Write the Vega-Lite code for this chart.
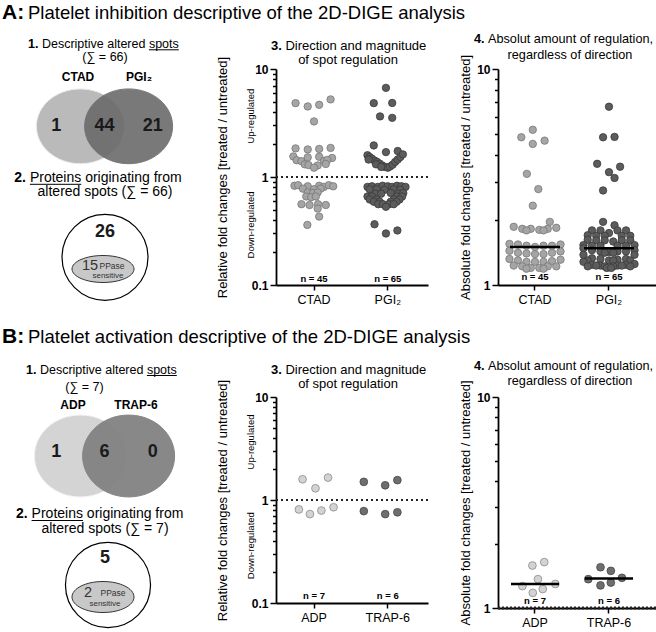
{
"$schema": "https://vega.github.io/schema/vega-lite/v6.json",
"background": "white",
"padding": {"left": 2, "top": 2, "right": 0, "bottom": 0},
"config": {
 "font": "Liberation Sans",
 "view": {"stroke": null},
 "axis": {"domainColor": "#000", "domainWidth": 1.8, "tickColor": "#000", "tickWidth": 1.5, "labelColor": "#000", "titleColor": "#000", "labelFont": "Liberation Sans", "titleFont": "Liberation Sans", "grid": false},
 "axisX": {"labelFontSize": 12.5, "labelAngle": 0, "tickSize": 5, "labelPadding": 3, "labelFontWeight": "normal"},
 "axisY": {"labelFontSize": 12, "labelFontWeight": "bold", "labelPadding": 2, "titleFontSize": 13, "titleFontWeight": "normal"},
 "text": {"font": "Liberation Sans", "color": "#000"}
},
"datasets": {
 "a3": [
  {"g":"CTAD","fc":4.83,"j":-5},{"g":"CTAD","fc":4.5,"j":-1.7},{"g":"CTAD","fc":4.66,"j":1.4},{"g":"CTAD","fc":5.23,"j":4.5},{"g":"CTAD","fc":3.27,"j":0},
  {"g":"CTAD","fc":1.84,"j":-5},{"g":"CTAD","fc":1.8,"j":-1.7},{"g":"CTAD","fc":1.82,"j":1.4},{"g":"CTAD","fc":1.86,"j":4.5},
  {"g":"CTAD","fc":1.55,"j":-5.6},{"g":"CTAD","fc":1.52,"j":-1.7},{"g":"CTAD","fc":1.54,"j":1.4},{"g":"CTAD","fc":1.5,"j":4.9},
  {"g":"CTAD","fc":1.43,"j":-4.7},{"g":"CTAD","fc":1.4,"j":-3.4},{"g":"CTAD","fc":1.41,"j":2.7},{"g":"CTAD","fc":1.44,"j":3.6},
  {"g":"CTAD","fc":1.31,"j":-2.5},{"g":"CTAD","fc":1.29,"j":-1.5},{"g":"CTAD","fc":1.28,"j":1},{"g":"CTAD","fc":1.32,"j":3.2},{"g":"CTAD","fc":1.22,"j":0},
  {"g":"CTAD","fc":0.83,"j":-5.3},{"g":"CTAD","fc":0.84,"j":-4.3},{"g":"CTAD","fc":0.82,"j":-1.7},{"g":"CTAD","fc":0.83,"j":1.4},{"g":"CTAD","fc":0.81,"j":2.7},{"g":"CTAD","fc":0.84,"j":4},{"g":"CTAD","fc":0.82,"j":5.2},
  {"g":"CTAD","fc":0.78,"j":-3},{"g":"CTAD","fc":0.77,"j":0},{"g":"CTAD","fc":0.78,"j":1.8},
  {"g":"CTAD","fc":0.72,"j":-1.7},{"g":"CTAD","fc":0.71,"j":-0.3},{"g":"CTAD","fc":0.72,"j":1},
  {"g":"CTAD","fc":0.66,"j":-2.1},{"g":"CTAD","fc":0.65,"j":-0.8},{"g":"CTAD","fc":0.66,"j":0.5},
  {"g":"CTAD","fc":0.56,"j":-3.4},{"g":"CTAD","fc":0.55,"j":-1.2},{"g":"CTAD","fc":0.56,"j":1.1},{"g":"CTAD","fc":0.55,"j":3.2},
  {"g":"CTAD","fc":0.51,"j":1},{"g":"CTAD","fc":0.43,"j":1.4},{"g":"CTAD","fc":0.36,"j":-1.8},
  {"g":"PGI\u2082","fc":6.69,"j":-0.5},{"g":"PGI\u2082","fc":4.83,"j":-3.8},{"g":"PGI\u2082","fc":4.85,"j":1.2},{"g":"PGI\u2082","fc":3.64,"j":-2.1},{"g":"PGI\u2082","fc":3.53,"j":1.2},
  {"g":"PGI\u2082","fc":1.96,"j":-3.8},{"g":"PGI\u2082","fc":1.7,"j":-0.5},{"g":"PGI\u2082","fc":1.74,"j":2.7},
  {"g":"PGI\u2082","fc":1.59,"j":-5.5},{"g":"PGI\u2082","fc":1.53,"j":-4.9},{"g":"PGI\u2082","fc":1.48,"j":-4.3},{"g":"PGI\u2082","fc":1.42,"j":-3.6},{"g":"PGI\u2082","fc":1.38,"j":-2.9},{"g":"PGI\u2082","fc":1.33,"j":-2.2},{"g":"PGI\u2082","fc":1.28,"j":-1.5},{"g":"PGI\u2082","fc":1.24,"j":-0.8},{"g":"PGI\u2082","fc":1.22,"j":0},{"g":"PGI\u2082","fc":1.25,"j":0.6},{"g":"PGI\u2082","fc":1.3,"j":1.3},{"g":"PGI\u2082","fc":1.38,"j":2},{"g":"PGI\u2082","fc":1.45,"j":2.7},{"g":"PGI\u2082","fc":1.53,"j":3.4},{"g":"PGI\u2082","fc":1.62,"j":4.1},{"g":"PGI\u2082","fc":1.45,"j":-5.2},{"g":"PGI\u2082","fc":1.31,"j":-3.2},{"g":"PGI\u2082","fc":1.24,"j":-1.8},
  {"g":"PGI\u2082","fc":0.81,"j":-5.5},{"g":"PGI\u2082","fc":0.82,"j":-4.3},{"g":"PGI\u2082","fc":0.81,"j":-2.7},{"g":"PGI\u2082","fc":0.83,"j":-1.4},{"g":"PGI\u2082","fc":0.82,"j":0},{"g":"PGI\u2082","fc":0.81,"j":1.2},{"g":"PGI\u2082","fc":0.83,"j":2.5},{"g":"PGI\u2082","fc":0.82,"j":3.7},{"g":"PGI\u2082","fc":0.81,"j":4.8},
  {"g":"PGI\u2082","fc":0.77,"j":-4.9},{"g":"PGI\u2082","fc":0.77,"j":-3},{"g":"PGI\u2082","fc":0.76,"j":-0.9},{"g":"PGI\u2082","fc":0.77,"j":1.6},{"g":"PGI\u2082","fc":0.76,"j":3.4},
  {"g":"PGI\u2082","fc":0.7,"j":-3.4},{"g":"PGI\u2082","fc":0.7,"j":-1.8},{"g":"PGI\u2082","fc":0.71,"j":0.8},{"g":"PGI\u2082","fc":0.7,"j":2.8},{"g":"PGI\u2082","fc":0.71,"j":4.2},
  {"g":"PGI\u2082","fc":0.66,"j":-5.5},{"g":"PGI\u2082","fc":0.66,"j":-4.3},{"g":"PGI\u2082","fc":0.66,"j":2.4},{"g":"PGI\u2082","fc":0.66,"j":3.9},
  {"g":"PGI\u2082","fc":0.62,"j":-4.9},{"g":"PGI\u2082","fc":0.62,"j":-3},{"g":"PGI\u2082","fc":0.62,"j":1.6},{"g":"PGI\u2082","fc":0.62,"j":3.2},
  {"g":"PGI\u2082","fc":0.59,"j":-3.8},{"g":"PGI\u2082","fc":0.59,"j":-2.2},{"g":"PGI\u2082","fc":0.59,"j":0.8},{"g":"PGI\u2082","fc":0.59,"j":2.4},
  {"g":"PGI\u2082","fc":0.56,"j":-2.6},{"g":"PGI\u2082","fc":0.56,"j":-1.3},{"g":"PGI\u2082","fc":0.56,"j":0.3},{"g":"PGI\u2082","fc":0.56,"j":1.6},
  {"g":"PGI\u2082","fc":0.53,"j":-0.5},
  {"g":"PGI\u2082","fc":0.365,"j":-3.6},{"g":"PGI\u2082","fc":0.3,"j":-0.5},{"g":"PGI\u2082","fc":0.32,"j":2.6}
 ],
 "a4": [
  {"g":"CTAD","v":5.23,"j":-0.6},{"g":"CTAD","v":4.83,"j":-3.7},{"g":"CTAD","v":4.5,"j":-0.6},{"g":"CTAD","v":4.66,"j":2.6},{"g":"CTAD","v":3.27,"j":-2.2},{"g":"CTAD","v":2.78,"j":0.9},{"g":"CTAD","v":2.33,"j":-0.6},{"g":"CTAD","v":1.96,"j":4},
  {"g":"CTAD","v":1.86,"j":-5.75},{"g":"CTAD","v":1.84,"j":5.75},{"g":"CTAD","v":1.82,"j":-3.45},{"g":"CTAD","v":1.82,"j":3.45},{"g":"CTAD","v":1.82,"j":-1.15},{"g":"CTAD","v":1.8,"j":1.15},{"g":"CTAD","v":1.79,"j":-2.3},{"g":"CTAD","v":1.79,"j":2.3},
  {"g":"CTAD","v":1.55,"j":-6.9},{"g":"CTAD","v":1.54,"j":6.9},{"g":"CTAD","v":1.54,"j":-4.6},{"g":"CTAD","v":1.52,"j":4.6},{"g":"CTAD","v":1.52,"j":-2.3},{"g":"CTAD","v":1.52,"j":2.3},{"g":"CTAD","v":1.5,"j":0},
  {"g":"CTAD","v":1.44,"j":-6.9},{"g":"CTAD","v":1.43,"j":6.9},{"g":"CTAD","v":1.41,"j":-4.6},{"g":"CTAD","v":1.41,"j":4.6},{"g":"CTAD","v":1.4,"j":-2.3},{"g":"CTAD","v":1.39,"j":2.3},{"g":"CTAD","v":1.39,"j":0},
  {"g":"CTAD","v":1.32,"j":-6.9},{"g":"CTAD","v":1.31,"j":6.9},{"g":"CTAD","v":1.3,"j":-4.6},{"g":"CTAD","v":1.29,"j":4.6},{"g":"CTAD","v":1.28,"j":-2.3},{"g":"CTAD","v":1.28,"j":2.3},{"g":"CTAD","v":1.28,"j":0},
  {"g":"CTAD","v":1.23,"j":-5.75},{"g":"CTAD","v":1.22,"j":5.75},{"g":"CTAD","v":1.22,"j":-3.45},{"g":"CTAD","v":1.22,"j":3.45},{"g":"CTAD","v":1.2,"j":-1.15},{"g":"CTAD","v":1.2,"j":1.15},{"g":"CTAD","v":1.19,"j":-2.3},{"g":"CTAD","v":1.19,"j":2.3},
  {"g":"PGI\u2082","v":6.69,"j":0},{"g":"PGI\u2082","v":4.83,"j":-1.6},{"g":"PGI\u2082","v":4.85,"j":1.5},{"g":"PGI\u2082","v":3.64,"j":-3.2},{"g":"PGI\u2082","v":3.53,"j":3},{"g":"PGI\u2082","v":3.33,"j":0},{"g":"PGI\u2082","v":3.13,"j":1.5},{"g":"PGI\u2082","v":2.74,"j":-1.6},{"g":"PGI\u2082","v":1.96,"j":-1.6},{"g":"PGI\u2082","v":1.89,"j":1.5},
  {"g":"PGI\u2082","v":1.79,"j":-4.6},{"g":"PGI\u2082","v":1.79,"j":4.6},{"g":"PGI\u2082","v":1.79,"j":-2.3},{"g":"PGI\u2082","v":1.79,"j":2.3},{"g":"PGI\u2082","v":1.74,"j":0},{"g":"PGI\u2082","v":1.7,"j":-5.75},{"g":"PGI\u2082","v":1.69,"j":5.75},{"g":"PGI\u2082","v":1.69,"j":-3.45},{"g":"PGI\u2082","v":1.69,"j":3.45},{"g":"PGI\u2082","v":1.69,"j":-1.15},
  {"g":"PGI\u2082","v":1.62,"j":-5.75},{"g":"PGI\u2082","v":1.61,"j":5.75},{"g":"PGI\u2082","v":1.61,"j":-3.45},{"g":"PGI\u2082","v":1.61,"j":3.45},{"g":"PGI\u2082","v":1.61,"j":-1.15},{"g":"PGI\u2082","v":1.59,"j":1.15},
  {"g":"PGI\u2082","v":1.53,"j":-6.9},{"g":"PGI\u2082","v":1.53,"j":6.9},{"g":"PGI\u2082","v":1.52,"j":-4.6},{"g":"PGI\u2082","v":1.52,"j":4.6},{"g":"PGI\u2082","v":1.52,"j":-2.3},{"g":"PGI\u2082","v":1.52,"j":2.3},
  {"g":"PGI\u2082","v":1.48,"j":-6.9},{"g":"PGI\u2082","v":1.45,"j":6.9},{"g":"PGI\u2082","v":1.45,"j":-4.6},{"g":"PGI\u2082","v":1.43,"j":4.6},{"g":"PGI\u2082","v":1.43,"j":-2.3},{"g":"PGI\u2082","v":1.43,"j":2.3},{"g":"PGI\u2082","v":1.42,"j":0},{"g":"PGI\u2082","v":1.41,"j":-1.15},{"g":"PGI\u2082","v":1.41,"j":1.15},
  {"g":"PGI\u2082","v":1.38,"j":-6.9},{"g":"PGI\u2082","v":1.38,"j":6.9},{"g":"PGI\u2082","v":1.33,"j":-4.6},{"g":"PGI\u2082","v":1.32,"j":4.6},{"g":"PGI\u2082","v":1.32,"j":-2.3},{"g":"PGI\u2082","v":1.31,"j":2.3},{"g":"PGI\u2082","v":1.3,"j":0},{"g":"PGI\u2082","v":1.3,"j":-5.75},{"g":"PGI\u2082","v":1.3,"j":5.75},{"g":"PGI\u2082","v":1.3,"j":1.15},
  {"g":"PGI\u2082","v":1.28,"j":-6.9},{"g":"PGI\u2082","v":1.25,"j":6.9},{"g":"PGI\u2082","v":1.24,"j":-4.6},{"g":"PGI\u2082","v":1.24,"j":4.6},{"g":"PGI\u2082","v":1.23,"j":-2.3},{"g":"PGI\u2082","v":1.23,"j":2.3},{"g":"PGI\u2082","v":1.23,"j":-3.45},{"g":"PGI\u2082","v":1.23,"j":3.45},{"g":"PGI\u2082","v":1.22,"j":-1.15},{"g":"PGI\u2082","v":1.22,"j":1.15},{"g":"PGI\u2082","v":1.22,"j":-5.75},{"g":"PGI\u2082","v":1.22,"j":5.75},{"g":"PGI\u2082","v":1.2,"j":-0.6},{"g":"PGI\u2082","v":1.2,"j":0.6}
 ],
 "b3": [
  {"g":"ADP","fc":1.59,"j":-3.1},{"g":"ADP","fc":1.65,"j":3.8},{"g":"ADP","fc":1.3,"j":0.4},{"g":"ADP","fc":0.81,"j":-4.1},{"g":"ADP","fc":0.73,"j":-1.1},{"g":"ADP","fc":0.79,"j":2},{"g":"ADP","fc":0.85,"j":5.3},
  {"g":"TRAP-6","fc":1.5,"j":-6.5},{"g":"TRAP-6","fc":1.39,"j":-0.7},{"g":"TRAP-6","fc":1.56,"j":2.6},{"g":"TRAP-6","fc":0.78,"j":-6.5},{"g":"TRAP-6","fc":0.73,"j":-0.7},{"g":"TRAP-6","fc":0.76,"j":2.6}
 ],
 "b4": [
  {"g":"ADP","v":1.59,"j":-0.7},{"g":"ADP","v":1.65,"j":2.5},{"g":"ADP","v":1.37,"j":0.8},{"g":"ADP","v":1.3,"j":5.5},{"g":"ADP","v":1.27,"j":-3.4},{"g":"ADP","v":1.18,"j":-0.6},{"g":"ADP","v":1.23,"j":2.1},
  {"g":"TRAP-6","v":1.56,"j":-2.3},{"g":"TRAP-6","v":1.5,"j":0.5},{"g":"TRAP-6","v":1.37,"j":-5.6},{"g":"TRAP-6","v":1.28,"j":-2.3},{"g":"TRAP-6","v":1.32,"j":0.5},{"g":"TRAP-6","v":1.39,"j":3.5}
 ]
},
"spacing": 20,
"resolve": {"scale": {"fill": "independent", "stroke": "independent", "opacity": "independent", "xOffset": "independent"}},
"vconcat": [
 {
  "bounds": "flush",
  "spacing": 70,
  "resolve": {"scale": {"fill": "independent", "stroke": "independent", "opacity": "independent", "xOffset": "independent"}},
  "hconcat": [
   {
    "width": 203, "height": 216,
    "layer": [
     {"data": {"values": [{"t": "A:"}]}, "mark": {"type": "text", "fontSize": 21, "fontWeight": "bold", "align": "left", "baseline": "alphabetic", "dx": -102.5, "dy": -157.7}, "encoding": {"text": {"field": "t"}}},
     {"data": {"values": [{"t": "Platelet inhibition descriptive of the 2D-DIGE analysis"}]}, "mark": {"type": "text", "fontSize": 18.5, "align": "left", "baseline": "alphabetic", "dx": -76.5, "dy": -157.7}, "encoding": {"text": {"field": "t"}}},
     {"data": {"values": [{"set": "CTAD"}, {"set": "PGI\u2082"}]},
      "mark": {"type": "point", "shape": "M-1,0C-1,-0.4695,-0.5523,-0.85,0,-0.85C0.5523,-0.85,1,-0.4695,1,0C1,0.4695,0.5523,0.85,0,0.85C-0.5523,0.85,-1,0.4695,-1,0Z", "size": 7744, "filled": true, "strokeWidth": 1, "yOffset": -50.7},
      "encoding": {
       "x": {"field": "set", "type": "nominal", "scale": {"type": "point", "domain": ["_a", "_b", "CTAD only", "CTAD", "both", "PGI\u2082", "PGI\u2082 only", "_c", "_d"], "padding": 0.21}, "axis": null},
       "fill": {"field": "set", "type": "nominal", "scale": {"domain": ["CTAD", "PGI\u2082"], "range": ["#bababa", "#6b6b6b"]}, "legend": null},
       "stroke": {"field": "set", "type": "nominal", "scale": {"domain": ["CTAD", "PGI\u2082"], "range": ["#ececec", "#6b6b6b"]}, "legend": null},
       "opacity": {"field": "set", "type": "nominal", "scale": {"domain": ["CTAD", "PGI\u2082"], "range": [1, 0.9]}, "legend": null}
      }},
     {"data": {"values": [{"region": "CTAD only", "n": 1}, {"region": "both", "n": 44}, {"region": "PGI\u2082 only", "n": 21}]},
      "mark": {"type": "text", "fontSize": 18, "fontWeight": "bold", "baseline": "middle", "dy": -50.7, "color": "#1a1a1a"},
      "encoding": {"x": {"field": "region", "type": "nominal", "axis": null}, "text": {"field": "n"}}},
     {"data": {"values": [{"t": "CTAD"}]}, "mark": {"type": "text", "fontSize": 12, "fontWeight": "bold", "baseline": "alphabetic", "dx": -26.5, "dy": -95.7}, "encoding": {"text": {"field": "t"}}},
     {"data": {"values": [{"t": "PGI\u2082"}]}, "mark": {"type": "text", "fontSize": 12, "fontWeight": "bold", "baseline": "alphabetic", "dx": 34.5, "dy": -95.7}, "encoding": {"text": {"field": "t"}}},
     {"data": {"values": [{"t": "1."}]}, "mark": {"type": "text", "fontSize": 12.5, "fontWeight": "bold", "align": "left", "baseline": "alphabetic", "dx": -76.5, "dy": -129.2}, "encoding": {"text": {"field": "t"}}},
     {"data": {"values": [{"t": "Descriptive altered spots"}]}, "mark": {"type": "text", "fontSize": 12.5, "align": "left", "baseline": "alphabetic", "dx": -62.6, "dy": -129.2}, "encoding": {"text": {"field": "t"}}},
     {"data": {"values": [{"u": "spots"}]}, "mark": {"type": "rule", "color": "#000", "strokeWidth": 1, "xOffset": 44.4, "x2Offset": 74.3, "yOffset": -127.2}, "encoding": {"x": {"datum": "both", "axis": null}, "x2": {"datum": "both"}}},
     {"data": {"values": [{"t": "(\u2211 = 66)"}]}, "mark": {"type": "text", "fontSize": 12.5, "align": "center", "baseline": "alphabetic", "dx": 0.5, "dy": -115.7}, "encoding": {"text": {"field": "t"}}},
     {"data": {"values": [{"t": "2."}]}, "mark": {"type": "text", "fontSize": 14, "fontWeight": "bold", "align": "left", "baseline": "alphabetic", "dx": -90.2, "dy": 4.8}, "encoding": {"text": {"field": "t"}}},
     {"data": {"values": [{"t": "Proteins originating from"}]}, "mark": {"type": "text", "fontSize": 14, "align": "left", "baseline": "alphabetic", "dx": -74.6, "dy": 4.8}, "encoding": {"text": {"field": "t"}}},
     {"data": {"values": [{"u": "Proteins"}]}, "mark": {"type": "rule", "color": "#000", "strokeWidth": 1, "xOffset": -74.6, "x2Offset": -23.2, "yOffset": 7.3}, "encoding": {"x": {"datum": "both", "axis": null}, "x2": {"datum": "both"}}},
     {"data": {"values": [{"t": "altered spots (\u2211 = 66)"}]}, "mark": {"type": "text", "fontSize": 14, "align": "center", "baseline": "alphabetic", "dx": 0.5, "dy": 19.3}, "encoding": {"text": {"field": "t"}}},
     {"data": {"values": [{"c": "all proteins"}]}, "mark": {"type": "point", "shape": "circle", "size": 7390, "filled": true, "fill": "#ffffff", "stroke": "#000000", "strokeWidth": 1.2, "opacity": 1, "xOffset": 0.5, "yOffset": 80.3}, "encoding": {}},
     {"data": {"values": [{"n": 26}]}, "mark": {"type": "text", "fontSize": 18, "fontWeight": "bold", "baseline": "middle", "dx": 0.5, "dy": 55.3, "color": "#1a1a1a"}, "encoding": {"text": {"field": "n"}}},
     {"data": {"values": [{"c": "PPase sensitive"}]}, "mark": {"type": "point", "shape": "M-1,0C-1,-0.2403,-0.5523,-0.435,0,-0.435C0.5523,-0.435,1,-0.2403,1,0C1,0.2403,0.5523,0.435,0,0.435C-0.5523,0.435,-1,0.2403,-1,0Z", "size": 3844, "filled": true, "fill": "#c8c8c8", "stroke": "#333333", "strokeWidth": 1, "opacity": 1, "xOffset": -1.5, "yOffset": 92}, "encoding": {}},
     {"data": {"values": [{"n": 15}]}, "mark": {"type": "text", "fontSize": 14.5, "baseline": "middle", "dx": -14.5, "dy": 89.3, "color": "#333333"}, "encoding": {"text": {"field": "n"}}},
     {"data": {"values": [{"t": "PPase"}]}, "mark": {"type": "text", "fontSize": 8.5, "baseline": "middle", "dx": 7.5, "dy": 89.3, "color": "#333333"}, "encoding": {"text": {"field": "t"}}},
     {"data": {"values": [{"t": "sensitive"}]}, "mark": {"type": "text", "fontSize": 8, "baseline": "middle", "dx": 3.5, "dy": 99.3, "color": "#333333"}, "encoding": {"text": {"field": "t"}}}
    ]
   },
   {
    "width": 152, "height": 216,
    "layer": [
     {"data": {"values": [{"ref": 1}]}, "mark": {"type": "rule", "strokeDash": [2, 3], "strokeWidth": 2, "color": "#222222"}, "encoding": {"y": {"datum": 1}}},
     {"data": {"name": "a3"},
      "mark": {"type": "point", "filled": true, "size": 55, "strokeWidth": 0.8, "opacity": 1},
      "encoding": {
       "x": {"field": "g", "type": "nominal", "sort": null, "scale": {"type": "band", "domain": ["CTAD", "PGI\u2082"], "paddingInner": 0, "paddingOuter": 0.03, "align": 0.25}, "axis": {"title": null}},
       "xOffset": {"field": "j", "type": "quantitative", "scale": {"domain": [-10, 10]}},
       "y": {"field": "fc", "type": "quantitative", "scale": {"type": "log", "domain": [0.1, 10], "nice": false},
        "axis": {"title": "Relative fold changes [treated / untreated]", "titlePadding": 22, "values": [0.1, 0.2, 0.3, 0.4, 0.5, 0.6, 0.7, 0.8, 0.9, 1, 2, 3, 4, 5, 6, 7, 8, 9, 10], "labelExpr": "datum.value == 0.1 ? '0.1' : datum.value == 1 ? '1' : datum.value == 10 ? '10' : ''", "tickSize": {"condition": {"test": "datum.value == 0.1 || datum.value == 1 || datum.value == 10", "value": 6}, "value": 3.5}, "labelOverlap": false, "labelFlush": false}},
       "fill": {"field": "g", "type": "nominal", "scale": {"domain": ["CTAD", "PGI\u2082"], "range": ["#a5a5a5", "#5c5c5c"]}, "legend": null},
       "stroke": {"field": "g", "type": "nominal", "scale": {"domain": ["CTAD", "PGI\u2082"], "range": ["#777777", "#3a3a3a"]}, "legend": null}
      }},
     {"data": {"values": [{"g": "CTAD", "n": "n = 45"}, {"g": "PGI\u2082", "n": "n = 65"}]}, "mark": {"type": "text", "fontSize": 9.5, "fontWeight": "bold", "baseline": "middle", "dy": -6}, "encoding": {"x": {"field": "g", "type": "nominal"}, "y": {"datum": 0.1}, "text": {"field": "n"}}},
     {"data": {"values": [{"t": "Up-regulated", "v": 3.66}, {"t": "Down-regulated", "v": 0.36}]}, "mark": {"type": "text", "angle": 270, "fontSize": 9.5, "dy": -63, "align": "center", "baseline": "middle"}, "encoding": {"x": {"datum": "CTAD"}, "y": {"field": "v", "type": "quantitative"}, "text": {"field": "t"}}},
     {"data": {"values": [{"t": "3."}]}, "mark": {"type": "text", "fontSize": 13, "fontWeight": "bold", "align": "left", "baseline": "alphabetic", "dx": -81, "dy": -19}, "encoding": {"y": {"datum": 10}, "text": {"field": "t"}}},
     {"data": {"values": [{"t": "Direction and magnitude"}]}, "mark": {"type": "text", "fontSize": 13, "align": "left", "baseline": "alphabetic", "dx": -66.6, "dy": -19}, "encoding": {"y": {"datum": 10}, "text": {"field": "t"}}},
     {"data": {"values": [{"t": "of spot regulation"}]}, "mark": {"type": "text", "fontSize": 13, "align": "center", "baseline": "alphabetic", "dx": -4, "dy": -5}, "encoding": {"y": {"datum": 10}, "text": {"field": "t"}}}
    ]
   },
   {
    "width": 158, "height": 216,
    "layer": [
     {"data": {"name": "a4"},
      "mark": {"type": "point", "filled": true, "size": 55, "strokeWidth": 0.8, "opacity": 1},
      "encoding": {
       "x": {"field": "g", "type": "nominal", "sort": null, "scale": {"type": "band", "domain": ["CTAD", "PGI\u2082"], "paddingInner": 0, "paddingOuter": 0.0676, "align": 0}, "axis": {"title": null}},
       "xOffset": {"field": "j", "type": "quantitative", "scale": {"domain": [-10, 10]}},
       "y": {"field": "v", "type": "quantitative", "scale": {"type": "log", "domain": [1, 10], "nice": false},
        "axis": {"title": "Absolute fold changes [treated / untreated]", "titlePadding": 4, "values": [1, 2, 3, 4, 5, 6, 7, 8, 9, 10], "labelExpr": "datum.value == 1 ? '1' : datum.value == 10 ? '10' : ''", "tickSize": {"condition": {"test": "datum.value == 1 || datum.value == 10", "value": 6}, "value": 3.5}, "labelOverlap": false, "labelFlush": false}},
       "fill": {"field": "g", "type": "nominal", "scale": {"domain": ["CTAD", "PGI\u2082"], "range": ["#a5a5a5", "#5c5c5c"]}, "legend": null},
       "stroke": {"field": "g", "type": "nominal", "scale": {"domain": ["CTAD", "PGI\u2082"], "range": ["#777777", "#3a3a3a"]}, "legend": null}
      }},
     {"data": {"name": "a4"}, "mark": {"type": "tick", "color": "#000000", "thickness": 2.5, "size": 50}, "encoding": {"x": {"field": "g", "type": "nominal"}, "y": {"field": "v", "type": "quantitative", "aggregate": "median"}}},
     {"data": {"values": [{"g": "CTAD", "n": "n = 45"}, {"g": "PGI\u2082", "n": "n = 65"}]}, "mark": {"type": "text", "fontSize": 9.5, "fontWeight": "bold", "baseline": "middle", "dy": -8}, "encoding": {"x": {"field": "g", "type": "nominal"}, "y": {"datum": 1}, "text": {"field": "n"}}},
     {"data": {"values": [{"t": "4."}]}, "mark": {"type": "text", "fontSize": 12.7, "fontWeight": "bold", "align": "left", "baseline": "alphabetic", "dx": -103, "dy": -26}, "encoding": {"y": {"datum": 10}, "text": {"field": "t"}}},
     {"data": {"values": [{"t": "Absolut amount of regulation,"}]}, "mark": {"type": "text", "fontSize": 12.7, "align": "left", "baseline": "alphabetic", "dx": -89, "dy": -26}, "encoding": {"y": {"datum": 10}, "text": {"field": "t"}}},
     {"data": {"values": [{"t": "regardless of direction"}]}, "mark": {"type": "text", "fontSize": 12.7, "align": "center", "baseline": "alphabetic", "dx": -7, "dy": -10}, "encoding": {"y": {"datum": 10}, "text": {"field": "t"}}}
    ]
   }
  ]
 },
 {
  "bounds": "flush",
  "spacing": 70,
  "resolve": {"scale": {"fill": "independent", "stroke": "independent", "opacity": "independent", "xOffset": "independent"}},
  "hconcat": [
   {
    "width": 203, "height": 206,
    "layer": [
     {"data": {"values": [{"t": "B:"}]}, "mark": {"type": "text", "fontSize": 21, "fontWeight": "bold", "align": "left", "baseline": "alphabetic", "dx": -102.5, "dy": -157}, "encoding": {"text": {"field": "t"}}},
     {"data": {"values": [{"t": "Platelet activation descriptive of the 2D-DIGE analysis"}]}, "mark": {"type": "text", "fontSize": 18.5, "align": "left", "baseline": "alphabetic", "dx": -76.5, "dy": -157}, "encoding": {"text": {"field": "t"}}},
     {"data": {"values": [{"set": "ADP"}, {"set": "TRAP-6"}]},
      "mark": {"type": "point", "shape": "M-1,0C-1,-0.4915,-0.5523,-0.89,0,-0.89C0.5523,-0.89,1,-0.4915,1,0C1,0.4915,0.5523,0.89,0,0.89C-0.5523,0.89,-1,0.4915,-1,0Z", "size": 8464, "filled": true, "strokeWidth": 1, "yOffset": -44},
      "encoding": {
       "x": {"field": "set", "type": "nominal", "scale": {"type": "point", "domain": ["_a", "_b", "ADP only", "ADP", "both", "TRAP-6", "TRAP-6 only", "_c", "_d"], "padding": 0.21}, "axis": null},
       "fill": {"field": "set", "type": "nominal", "scale": {"domain": ["ADP", "TRAP-6"], "range": ["#d4d4d4", "#828282"]}, "legend": null},
       "stroke": {"field": "set", "type": "nominal", "scale": {"domain": ["ADP", "TRAP-6"], "range": ["#f2f2f2", "#828282"]}, "legend": null},
       "opacity": {"field": "set", "type": "nominal", "scale": {"domain": ["ADP", "TRAP-6"], "range": [1, 0.95]}, "legend": null}
      }},
     {"data": {"values": [{"region": "ADP only", "n": 1}, {"region": "both", "n": 6}, {"region": "TRAP-6 only", "n": 0}]},
      "mark": {"type": "text", "fontSize": 18, "fontWeight": "bold", "baseline": "middle", "dy": -48, "color": "#1a1a1a"},
      "encoding": {"x": {"field": "region", "type": "nominal", "axis": null}, "text": {"field": "n"}}},
     {"data": {"values": [{"t": "ADP"}]}, "mark": {"type": "text", "fontSize": 12, "fontWeight": "bold", "baseline": "alphabetic", "dx": -31.5, "dy": -90.7}, "encoding": {"text": {"field": "t"}}},
     {"data": {"values": [{"t": "TRAP-6"}]}, "mark": {"type": "text", "fontSize": 12, "fontWeight": "bold", "baseline": "alphabetic", "dx": 31.5, "dy": -90.7}, "encoding": {"text": {"field": "t"}}},
     {"data": {"values": [{"t": "1."}]}, "mark": {"type": "text", "fontSize": 12.5, "fontWeight": "bold", "align": "left", "baseline": "alphabetic", "dx": -78.5, "dy": -126.5}, "encoding": {"text": {"field": "t"}}},
     {"data": {"values": [{"t": "Descriptive altered spots"}]}, "mark": {"type": "text", "fontSize": 12.5, "align": "left", "baseline": "alphabetic", "dx": -64.6, "dy": -126.5}, "encoding": {"text": {"field": "t"}}},
     {"data": {"values": [{"u": "spots"}]}, "mark": {"type": "rule", "color": "#000", "strokeWidth": 1, "xOffset": 42.4, "x2Offset": 72.3, "yOffset": -124.5}, "encoding": {"x": {"datum": "both", "axis": null}, "x2": {"datum": "both"}}},
     {"data": {"values": [{"t": "(\u2211 = 7)"}]}, "mark": {"type": "text", "fontSize": 12.5, "align": "center", "baseline": "alphabetic", "dx": -20, "dy": -109}, "encoding": {"text": {"field": "t"}}},
     {"data": {"values": [{"t": "2."}]}, "mark": {"type": "text", "fontSize": 14, "fontWeight": "bold", "align": "left", "baseline": "alphabetic", "dx": -88.5, "dy": 18}, "encoding": {"text": {"field": "t"}}},
     {"data": {"values": [{"t": "Proteins originating from"}]}, "mark": {"type": "text", "fontSize": 14, "align": "left", "baseline": "alphabetic", "dx": -72.9, "dy": 18}, "encoding": {"text": {"field": "t"}}},
     {"data": {"values": [{"u": "Proteins"}]}, "mark": {"type": "rule", "color": "#000", "strokeWidth": 1, "xOffset": -72.9, "x2Offset": -21.5, "yOffset": 20.5}, "encoding": {"x": {"datum": "both", "axis": null}, "x2": {"datum": "both"}}},
     {"data": {"values": [{"t": "altered spots (\u2211 = 7)"}]}, "mark": {"type": "text", "fontSize": 14, "align": "center", "baseline": "alphabetic", "dx": 0.5, "dy": 33.3}, "encoding": {"text": {"field": "t"}}},
     {"data": {"values": [{"c": "all proteins"}]}, "mark": {"type": "point", "shape": "circle", "size": 7238, "filled": true, "fill": "#ffffff", "stroke": "#000000", "strokeWidth": 1.2, "opacity": 1, "xOffset": 3.5, "yOffset": 85}, "encoding": {}},
     {"data": {"values": [{"n": 5}]}, "mark": {"type": "text", "fontSize": 18, "fontWeight": "bold", "baseline": "middle", "dx": 0.5, "dy": 58, "color": "#1a1a1a"}, "encoding": {"text": {"field": "n"}}},
     {"data": {"values": [{"c": "PPase sensitive"}]}, "mark": {"type": "point", "shape": "M-1,0C-1,-0.2762,-0.5523,-0.5,0,-0.5C0.5523,-0.5,1,-0.2762,1,0C1,0.2762,0.5523,0.5,0,0.5C-0.5523,0.5,-1,0.2762,-1,0Z", "size": 3844, "filled": true, "fill": "#c8c8c8", "stroke": "#333333", "strokeWidth": 1, "opacity": 1, "xOffset": -1.5, "yOffset": 97}, "encoding": {}},
     {"data": {"values": [{"n": 2}]}, "mark": {"type": "text", "fontSize": 14.5, "baseline": "middle", "dx": -16.5, "dy": 93, "color": "#333333"}, "encoding": {"text": {"field": "n"}}},
     {"data": {"values": [{"t": "PPase"}]}, "mark": {"type": "text", "fontSize": 8.5, "baseline": "middle", "dx": 8.5, "dy": 93, "color": "#333333"}, "encoding": {"text": {"field": "t"}}},
     {"data": {"values": [{"t": "sensitive"}]}, "mark": {"type": "text", "fontSize": 8, "baseline": "middle", "dx": 0.5, "dy": 104, "color": "#333333"}, "encoding": {"text": {"field": "t"}}}
    ]
   },
   {
    "width": 152, "height": 206,
    "layer": [
     {"data": {"values": [{"ref": 1}]}, "mark": {"type": "rule", "strokeDash": [2, 3], "strokeWidth": 2, "color": "#222222"}, "encoding": {"y": {"datum": 1}}},
     {"data": {"name": "b3"},
      "mark": {"type": "point", "filled": true, "size": 60, "strokeWidth": 0.8, "opacity": 1},
      "encoding": {
       "x": {"field": "g", "type": "nominal", "sort": null, "scale": {"type": "band", "domain": ["ADP", "TRAP-6"], "paddingInner": 0, "paddingOuter": 0.03, "align": 0.25}, "axis": {"title": null}},
       "xOffset": {"field": "j", "type": "quantitative", "scale": {"domain": [-10, 10]}},
       "y": {"field": "fc", "type": "quantitative", "scale": {"type": "log", "domain": [0.1, 10], "nice": false},
        "axis": {"title": "Relative fold changes [treated / untreated]", "titlePadding": 22, "values": [0.1, 0.2, 0.3, 0.4, 0.5, 0.6, 0.7, 0.8, 0.9, 1, 2, 3, 4, 5, 6, 7, 8, 9, 10], "labelExpr": "datum.value == 0.1 ? '0.1' : datum.value == 1 ? '1' : datum.value == 10 ? '10' : ''", "tickSize": {"condition": {"test": "datum.value == 0.1 || datum.value == 1 || datum.value == 10", "value": 6}, "value": 3.5}, "labelOverlap": false, "labelFlush": false}},
       "fill": {"field": "g", "type": "nominal", "scale": {"domain": ["ADP", "TRAP-6"], "range": ["#d3d3d3", "#6e6e6e"]}, "legend": null},
       "stroke": {"field": "g", "type": "nominal", "scale": {"domain": ["ADP", "TRAP-6"], "range": ["#8a8a8a", "#454545"]}, "legend": null}
      }},
     {"data": {"values": [{"g": "ADP", "n": "n = 7"}, {"g": "TRAP-6", "n": "n = 6"}]}, "mark": {"type": "text", "fontSize": 9.5, "fontWeight": "bold", "baseline": "middle", "dy": -7}, "encoding": {"x": {"field": "g", "type": "nominal"}, "y": {"datum": 0.1}, "text": {"field": "n"}}},
     {"data": {"values": [{"t": "Up-regulated", "v": 3.66}, {"t": "Down-regulated", "v": 0.36}]}, "mark": {"type": "text", "angle": 270, "fontSize": 9.5, "dy": -63, "align": "center", "baseline": "middle"}, "encoding": {"x": {"datum": "ADP"}, "y": {"field": "v", "type": "quantitative"}, "text": {"field": "t"}}},
     {"data": {"values": [{"t": "3."}]}, "mark": {"type": "text", "fontSize": 13, "fontWeight": "bold", "align": "left", "baseline": "alphabetic", "dx": -81, "dy": -23}, "encoding": {"y": {"datum": 10}, "text": {"field": "t"}}},
     {"data": {"values": [{"t": "Direction and magnitude"}]}, "mark": {"type": "text", "fontSize": 13, "align": "left", "baseline": "alphabetic", "dx": -66.6, "dy": -23}, "encoding": {"y": {"datum": 10}, "text": {"field": "t"}}},
     {"data": {"values": [{"t": "of spot regulation"}]}, "mark": {"type": "text", "fontSize": 13, "align": "center", "baseline": "alphabetic", "dx": -4, "dy": -9}, "encoding": {"y": {"datum": 10}, "text": {"field": "t"}}}
    ]
   },
   {
    "width": 158, "height": 211,
    "layer": [
     {"data": {"values": [{"ref": 1}]}, "mark": {"type": "rule", "strokeDash": [2, 2], "strokeWidth": 3, "color": "#222222"}, "encoding": {"y": {"datum": 1}}},
     {"data": {"name": "b4"},
      "mark": {"type": "point", "filled": true, "size": 60, "strokeWidth": 0.8, "opacity": 1},
      "encoding": {
       "x": {"field": "g", "type": "nominal", "sort": null, "scale": {"type": "band", "domain": ["ADP", "TRAP-6"], "paddingInner": 0, "paddingOuter": 0.0676, "align": 0}, "axis": {"title": null}},
       "xOffset": {"field": "j", "type": "quantitative", "scale": {"domain": [-10, 10]}},
       "y": {"field": "v", "type": "quantitative", "scale": {"type": "log", "domain": [1, 10], "nice": false},
        "axis": {"title": "Absolute fold changes [treated / untreated]", "titlePadding": 4, "values": [1, 2, 3, 4, 5, 6, 7, 8, 9, 10], "labelExpr": "datum.value == 1 ? '1' : datum.value == 10 ? '10' : ''", "tickSize": {"condition": {"test": "datum.value == 1 || datum.value == 10", "value": 6}, "value": 3.5}, "labelOverlap": false, "labelFlush": false}},
       "fill": {"field": "g", "type": "nominal", "scale": {"domain": ["ADP", "TRAP-6"], "range": ["#d3d3d3", "#6e6e6e"]}, "legend": null},
       "stroke": {"field": "g", "type": "nominal", "scale": {"domain": ["ADP", "TRAP-6"], "range": ["#8a8a8a", "#454545"]}, "legend": null}
      }},
     {"data": {"name": "b4"}, "mark": {"type": "tick", "color": "#000000", "thickness": 2.5, "size": 48}, "encoding": {"x": {"field": "g", "type": "nominal"}, "y": {"field": "v", "type": "quantitative", "aggregate": "median"}}},
     {"data": {"values": [{"g": "ADP", "n": "n = 7"}, {"g": "TRAP-6", "n": "n = 6"}]}, "mark": {"type": "text", "fontSize": 9.5, "fontWeight": "bold", "baseline": "middle", "dy": -7}, "encoding": {"x": {"field": "g", "type": "nominal"}, "y": {"datum": 1}, "text": {"field": "n"}}},
     {"data": {"values": [{"t": "4."}]}, "mark": {"type": "text", "fontSize": 12.7, "fontWeight": "bold", "align": "left", "baseline": "alphabetic", "dx": -103, "dy": -27}, "encoding": {"y": {"datum": 10}, "text": {"field": "t"}}},
     {"data": {"values": [{"t": "Absolut amount of regulation,"}]}, "mark": {"type": "text", "fontSize": 12.7, "align": "left", "baseline": "alphabetic", "dx": -89, "dy": -27}, "encoding": {"y": {"datum": 10}, "text": {"field": "t"}}},
     {"data": {"values": [{"t": "regardless of direction"}]}, "mark": {"type": "text", "fontSize": 12.7, "align": "center", "baseline": "alphabetic", "dx": -7, "dy": -12}, "encoding": {"y": {"datum": 10}, "text": {"field": "t"}}}
    ]
   }
  ]
 }
]
}
